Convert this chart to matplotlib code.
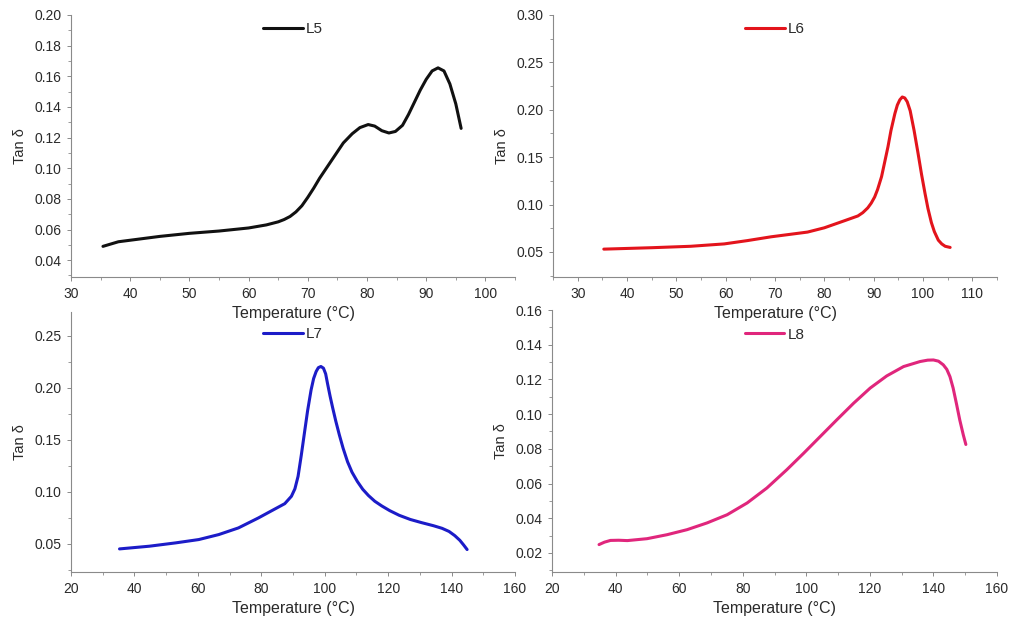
import matplotlib
matplotlib.use("Agg")
from matplotlib import pyplot as plt
from matplotlib.ticker import AutoMinorLocator, MultipleLocator

plt.rcParams['font.family'] = ['Liberation Sans', 'DejaVu Sans']

# L5 (black)
t5 = [35.4, 38, 40, 45, 50, 55, 60, 63, 65, 66, 67, 68, 69, 70, 71, 72, 74, 76, 77.5, 78.8, 80.2,
      81.3, 82.5, 83.7, 84.8, 86.0, 87, 88, 89, 90, 91, 92, 93, 94, 95, 95.9]
v5 = [0.049, 0.052, 0.053, 0.0555, 0.0575, 0.059, 0.061, 0.063, 0.065, 0.0665, 0.0685, 0.0715,
      0.0755, 0.081, 0.087, 0.0935, 0.105, 0.1165, 0.1225, 0.1265, 0.1285, 0.1275, 0.1245, 0.123,
      0.124, 0.128, 0.135, 0.143, 0.151, 0.158, 0.1635, 0.1655, 0.1635, 0.155, 0.142, 0.126]

# L6 (red)
t6 = [35.3, 45, 52.9, 59.7, 64.4, 69.2, 76.6, 80, 84.1, 86.8, 87.8, 88.8, 89.5, 90.2, 90.8, 91.6,
      92.2, 92.9, 93.5, 94.3, 94.8, 95.3, 95.8, 96.3, 96.8, 97.4, 98.2, 99.0, 99.7, 100.4, 101.0,
      101.7, 102.3, 103.1, 103.8, 104.5, 105.5]
v6 = [0.053, 0.0545, 0.056, 0.0585, 0.062, 0.066, 0.071, 0.0755, 0.083, 0.088, 0.0915, 0.0965,
      0.1015, 0.108, 0.116, 0.1295, 0.144, 0.161, 0.178, 0.196, 0.205, 0.2105, 0.2135, 0.2125,
      0.2085, 0.199, 0.178, 0.154, 0.132, 0.112, 0.096, 0.081, 0.0715, 0.0625, 0.0585, 0.056,
      0.0548]

# L7 (blue)
t7 = [35.3, 44.7, 53.0, 60.3, 66.6, 72.8, 79.1, 84.3, 87.4, 89.5, 90.6, 91.6, 92.6, 93.6, 94.6,
      95.7, 96.5, 97.3, 98.0, 98.8, 99.6, 100.3, 100.9, 101.7, 102.5, 103.5, 104.6, 105.8, 107.2,
      108.6, 110.3, 112.0, 113.8, 115.8, 118.0, 120.5, 123.5, 127.0, 130.5, 134.3, 137.0, 139.2,
      141.0, 142.6, 143.8, 144.9]
v7 = [0.0452, 0.0478, 0.051, 0.0542, 0.059, 0.0654, 0.075, 0.0836, 0.0887, 0.0958, 0.103, 0.115,
      0.135, 0.1566, 0.178, 0.198, 0.209, 0.2158, 0.2195, 0.2206, 0.219, 0.2135, 0.204, 0.192,
      0.181, 0.168, 0.155, 0.142, 0.129, 0.119, 0.110, 0.1025, 0.0965, 0.091, 0.0865, 0.082,
      0.0775, 0.0735, 0.0705, 0.0675, 0.065, 0.062, 0.058, 0.0535, 0.049, 0.0446]

# L8 (magenta)
t8 = [34.8, 36.5, 38.4, 41.0, 43.7, 49.9, 56.2, 62.5, 68.8, 75.1, 81.4, 87.6, 93.9, 99.2, 104.4,
      109.6, 114.9, 120.1, 125.3, 130.6, 135.8, 138.2, 140.0, 141.6, 143.1, 144.2, 145.2, 146.2,
      147.3, 148.3, 149.4, 150.2]
v8 = [0.0248, 0.0262, 0.0272, 0.0273, 0.0271, 0.0282, 0.0305, 0.0334, 0.0373, 0.042, 0.0488,
      0.0574, 0.068, 0.0775, 0.0871, 0.0967, 0.1063, 0.115, 0.122, 0.1274, 0.1303, 0.1311, 0.1312,
      0.1305, 0.1284, 0.1258, 0.1216, 0.1150, 0.1055, 0.0965, 0.0880, 0.0825]

W, H = 1011, 621
fig = plt.figure(figsize=(W / 100, H / 100), dpi=100)

panels = [
    # left, top, right, bottom (pixels), data, label, colour, xlim, ylim, xstep, ystep, legend pad
    (71, 15, 515, 277, t5, v5, 'L5', '#111111', (30, 105), (0.029, 0.20), 10, 0.02, 0.05),
    (553, 15, 997, 277, t6, v6, 'L6', '#e3141c', (25, 115), (0.0236, 0.30), 10, 0.05, 0.05),
    (71, 312, 515, 572, t7, v7, 'L7', '#1c1cc8', (20, 160), (0.023, 0.273), 20, 0.05, 0.6),
    (552, 310, 997, 572, t8, v8, 'L8', '#e0267c', (20, 160), (0.009, 0.16), 20, 0.02, 0.75),
]

grey = '#8a8a8a'
txt = '#2a2a2a'
for i, (l, t, r, b, xs, ys, lab, col, xl, yl, xst, yst, lpad) in enumerate(panels):
    ax = fig.add_axes([l / W, 1 - b / H, (r - l) / W, (b - t) / H])
    # top row drawn above bottom row so its x label is not hidden
    ax.set_zorder(2 if i < 2 else 1)
    ax.patch.set_visible(False)
    ax.plot(xs, ys, color=col, lw=2.2, label=lab, solid_capstyle='round',
            solid_joinstyle='round')
    ax.set_xlim(*xl)
    ax.set_ylim(*yl)
    ax.xaxis.set_major_locator(MultipleLocator(xst))
    ax.yaxis.set_major_locator(MultipleLocator(yst))
    ax.xaxis.set_minor_locator(AutoMinorLocator(2))
    ax.yaxis.set_minor_locator(AutoMinorLocator(2))
    ax.yaxis.set_major_formatter(plt.FormatStrFormatter('%.2f'))
    for s in ('top', 'right'):
        ax.spines[s].set_visible(False)
    for s in ('left', 'bottom'):
        ax.spines[s].set_color(grey)
        ax.spines[s].set_linewidth(0.8)
    ax.tick_params(which='major', direction='out', length=3, width=0.7, color=grey,
                   labelsize=10, labelcolor=txt, pad=4)
    ax.tick_params(which='minor', direction='out', length=2, width=0.6, color=grey)
    ax.set_xlabel('Temperature (°C)', fontsize=11.5, color=txt, labelpad=4)
    ax.set_ylabel('Tan δ', fontsize=10.5, color=txt, labelpad=5)
    ax.legend(loc='upper center', frameon=False, handlelength=2.6, handletextpad=0.2,
              fontsize=11, labelcolor=txt, borderaxespad=lpad, bbox_to_anchor=(0.5, 1.0))

fig.savefig('out.png', dpi=100)
